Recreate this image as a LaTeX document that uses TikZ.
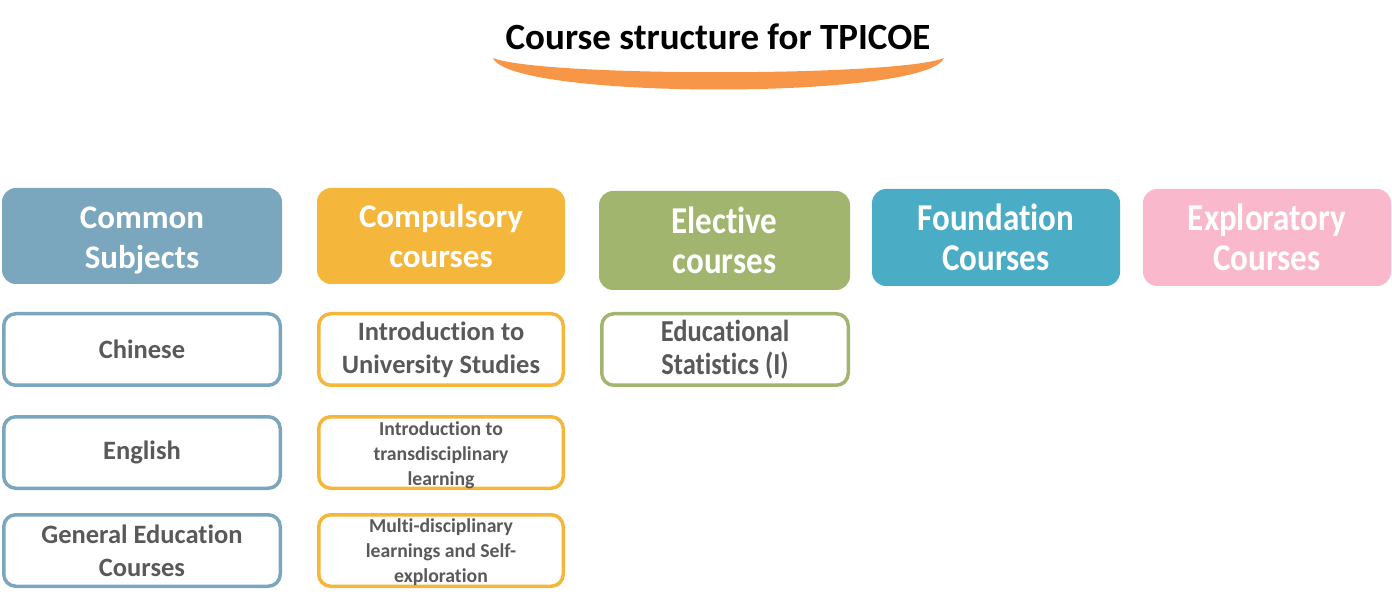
\documentclass[tikz,border=0pt]{standalone}
\usepackage{fontspec}
\usepackage{graphicx}
\setmainfont{Carlito}[Ligatures={NoCommon,NoContextual}]
\definecolor{cblue}{HTML}{7BA7BE}
\definecolor{corange}{HTML}{F4B63B}
\definecolor{cgreen}{HTML}{A2B56F}
\definecolor{cteal}{HTML}{4BACC6}
\definecolor{cpink}{HTML}{F9B8CB}
\definecolor{carc}{HTML}{F79646}
\definecolor{ctext}{HTML}{595959}
\newcommand{\tall}[1]{\scalebox{1}[1.15]{#1}}
\tikzset{
  head/.style={rounded corners=14pt, inner sep=0pt, text=white, align=center,
    font=\bfseries\fontsize{33}{40}\selectfont},
  item/.style={rounded corners=12pt, line width=3.5pt, fill=white, inner sep=0pt,
    text=ctext, align=center, minimum height=71.5pt},
  big/.style={font=\bfseries\fontsize{26.5}{33}\selectfont},
  small/.style={font=\bfseries\fontsize{19.7}{25}\selectfont},
  itemtext/.style={inner sep=0pt, text=ctext, align=center},
}
\begin{document}
\begin{tikzpicture}[x=1pt,y=-1pt]
\useasboundingbox (0,0) rectangle (1392,601);
% title
\node[font=\bfseries\fontsize{37}{40}\selectfont, text=black] (title) at (718,37) {Course structure for TPICOE};
\fill[carc] (493,58) .. controls (540,77) and (897,77) .. (944,58)
  .. controls (927,100) and (510,100) .. (493,58) -- cycle;
% headers
\node[head, fill=cblue, minimum width=280pt, minimum height=96pt] (h1) at (142,236) {};
\node[head] (h1t) at (142,240) {Common\\Subjects};
\node[head, fill=corange, minimum width=248pt, minimum height=96pt] (h2) at (441,236) {Compulsory\\courses};
\node[head, fill=cgreen, minimum width=251pt, minimum height=99pt] (h3) at (724.5,240.5) {\tall{Elective}\\\tall{courses}};
\node[head, fill=cteal, minimum width=248pt, minimum height=97pt] (h4) at (996,237.5) {\tall{Foundation}\\\tall{Courses}};
\node[head, fill=cpink, minimum width=248pt, minimum height=97pt] (h5) at (1267,237.5) {\tall{Exploratory}\\\tall{Courses}};
% column 1
\node[item, big, draw=cblue, minimum width=276.5pt] (a1) at (142,349.5) {Chinese};
\node[item, big, draw=cblue, minimum width=276.5pt] (a2) at (142,452.5) {English};
\node[item, big, draw=cblue, minimum width=276.5pt] (a3) at (142,550.5) {General Education\\Courses};
% column 2
\node[item, big, draw=corange, minimum width=244.5pt] (b1) at (441,349.5) {Introduction to\\University Studies};
\node[item, draw=corange, minimum width=244.5pt] (b2) at (441,452.5) {};
\node[itemtext, small] (b2t) at (441,455.5) {Introduction to\\transdisciplinary\\learning};
\node[item, draw=corange, minimum width=244.5pt] (b3) at (441,550.5) {};
\node[itemtext, small] (b3t) at (441,552.5) {Multi-disciplinary\\learnings and Self-\\exploration};
% column 3
\node[item, big, draw=cgreen, minimum width=246.5pt] (c1) at (725,349.5) {\tall{Educational}\\\tall{Statistics (I)}};
\end{tikzpicture}
\end{document}
